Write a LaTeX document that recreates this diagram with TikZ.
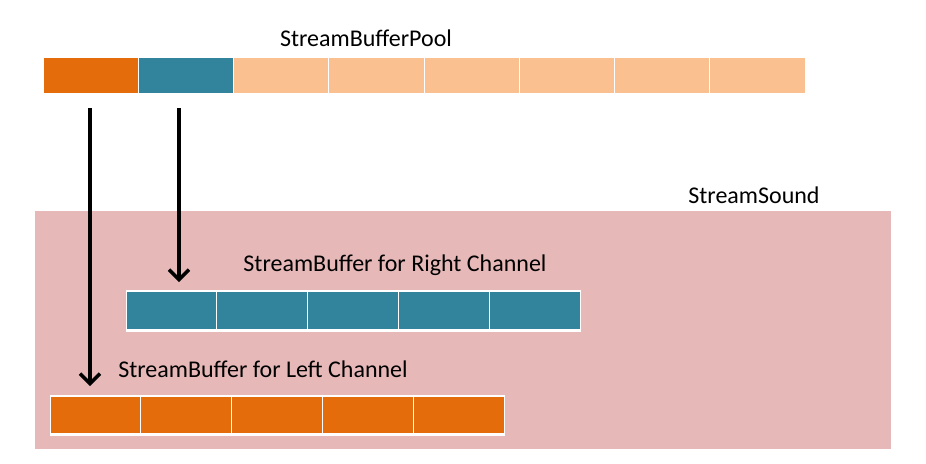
\documentclass[tikz,border=0pt]{standalone}
\usepackage{fontspec}
\setmainfont{Carlito}
\usetikzlibrary{arrows.meta}
\definecolor{cOrange}{HTML}{E46C0A}
\definecolor{cTeal}{HTML}{31849B}
\definecolor{cPeach}{HTML}{FAC090}
\definecolor{cPink}{HTML}{E6B9B8}
\tikzset{
  cell/.style={draw=white, line width=0.8pt, inner sep=0pt, outer sep=0pt, anchor=north west},
  lbl/.style={font=\fontsize{24}{28}\selectfont, inner sep=0pt, text=black},
  arr/.style={line width=3.5pt, -{Straight Barb[length=10pt,width=20pt,line width=3.5pt]}},
}
\begin{document}
\begin{tikzpicture}[x=1pt,y=-1pt]
\useasboundingbox (0,0) rectangle (926,463);
% top pool
\foreach \i/\c in {0/cOrange,1/cTeal,2/cPeach,3/cPeach,4/cPeach,5/cPeach,6/cPeach,7/cPeach} {
  \node[cell, fill=\c, minimum width=95.25pt, minimum height=36pt] (p\i) at ({43+95.25*\i},57) {};
}
\node[lbl] (pooltxt) at (366,38) {StreamBufferPool};
% stream sound
\node[fill=cPink, inner sep=0pt, minimum width=856pt, minimum height=238pt, anchor=north west] (ss) at (35,211) {};
\node[lbl] (sstxt) at (754,195) {StreamSound};
% right buffer
\fill[white] (126,290) rectangle (581,332);
\foreach \i in {0,...,4} {
  \node[cell, fill=cTeal, minimum width=90.8pt, minimum height=38pt] (r\i) at ({126+90.8*\i},291) {};
}
\node[lbl] (rtxt) at (395,265) {StreamBuffer for Right Channel};
% left buffer
\fill[white] (50,395) rectangle (505,436);
\foreach \i in {0,...,4} {
  \node[cell, fill=cOrange, minimum width=90.8pt, minimum height=37pt] (l\i) at ({50+90.8*\i},396) {};
}
\node[lbl] (ltxt) at (263,369) {StreamBuffer for Left Channel};
% arrows
\coordinate (a1s) at ([yshift=-15pt]p0.south -| 90,0);
\coordinate (a1e) at ([yshift=10pt]l0.north -| 90,0);
\coordinate (a2s) at ([yshift=-15pt]p1.south -| 179,0);
\coordinate (a2e) at ([yshift=9pt]r0.north -| 179,0);
\draw[arr] (a1s) -- (a1e);
\draw[arr] (a2s) -- (a2e);
\end{tikzpicture}
\end{document}
